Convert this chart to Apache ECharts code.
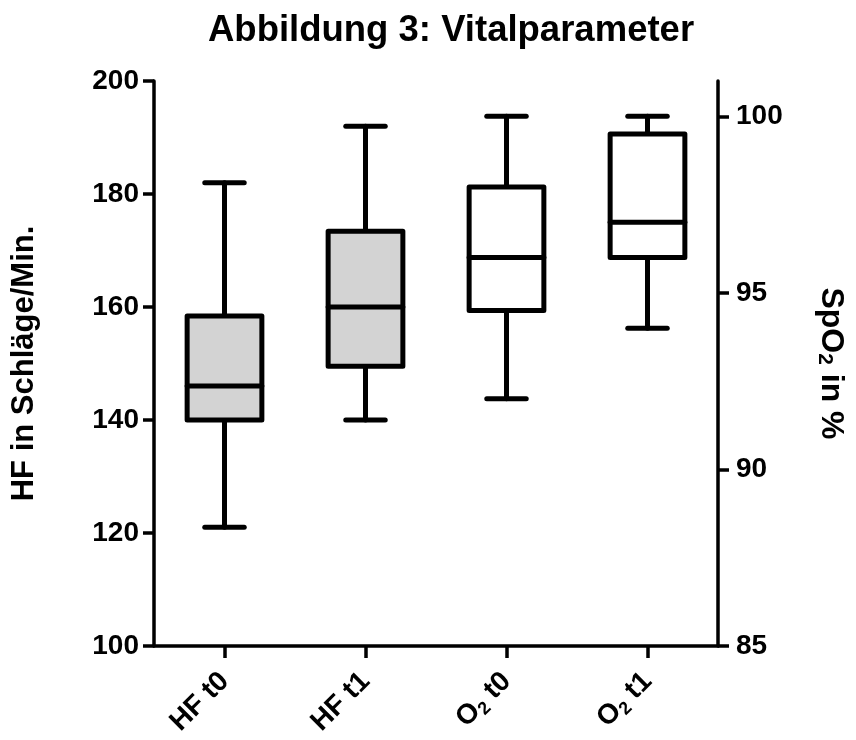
<!DOCTYPE html>
<html>
<head>
<meta charset="utf-8">
<script src="https://cdn.jsdelivr.net/npm/echarts@6/dist/echarts.min.js"></script>
<style>
html,body{margin:0;padding:0;background:#fff;}
#chart{width:856px;height:740px;}
</style>
</head>
<body>
<div id="chart"></div>
<script>
// ---- data ----
const categories = ['HF t0', 'HF t1', 'O₂ t0', 'O₂ t1'];
// [min, Q1, median, Q3, max]
const hfT0 = [121, 140, 146, 158.4, 182];
const hfT1 = [140, 149.5, 160, 173.4, 192];
const o2T0 = [92, 94.5, 96, 98, 100];
const o2T1 = [94, 96, 97, 99.5, 100];
const leftTicks = [100, 120, 140, 160, 180, 200];
const rightTicks = [85, 90, 95, 100];

const FONT = '"Liberation Sans", Arial, sans-serif';
const LW = 5;

function renderBox(fill) {
  return function (params, api) {
    const x = api.value(0);
    const pMin = api.coord([x, api.value(1)]);
    const pQ1 = api.coord([x, api.value(2)]);
    const pMed = api.coord([x, api.value(3)]);
    const pQ3 = api.coord([x, api.value(4)]);
    const pMax = api.coord([x, api.value(5)]);
    const band = api.size([1, 0])[0];
    const cx = pMed[0];
    const hb = band * 0.265;
    const hc = band * 0.14;
    const lineStyle = { stroke: '#000', lineWidth: LW, lineCap: 'round', lineJoin: 'round' };
    return {
      type: 'group',
      children: [
        { type: 'line', shape: { x1: cx, y1: pQ3[1], x2: cx, y2: pMax[1] }, style: lineStyle },
        { type: 'line', shape: { x1: cx, y1: pQ1[1], x2: cx, y2: pMin[1] }, style: lineStyle },
        { type: 'line', shape: { x1: cx - hc, y1: pMax[1], x2: cx + hc, y2: pMax[1] }, style: lineStyle },
        { type: 'line', shape: { x1: cx - hc, y1: pMin[1], x2: cx + hc, y2: pMin[1] }, style: lineStyle },
        { type: 'rect', shape: { x: cx - hb, y: pQ3[1], width: 2 * hb, height: pQ1[1] - pQ3[1] },
          style: { fill: fill, stroke: '#000', lineWidth: LW, lineJoin: 'round' } },
        { type: 'line', shape: { x1: cx - hb, y1: pMed[1], x2: cx + hb, y2: pMed[1] }, style: lineStyle }
      ]
    };
  };
}

const subRich = {
  s: { fontFamily: FONT, fontWeight: 'bold', fontSize: 18, color: '#000', verticalAlign: 'bottom', lineHeight: 12 }
};

const chart = echarts.init(document.getElementById('chart'), null, { renderer: 'canvas' });
chart.setOption({
  backgroundColor: '#fff',
  animation: false,
  title: {
    text: 'Abbildung 3: Vitalparameter',
    left: 203,
    top: 7,
    textStyle: { fontFamily: FONT, fontWeight: 'bold', fontSize: 36.5, color: '#000' }
  },
  grid: { left: 154, right: 130, top: 81, bottom: 94, containLabel: false },
  xAxis: {
    type: 'category',
    data: categories,
    axisLine: { lineStyle: { color: '#000', width: 3.5 } },
    axisTick: { show: true, alignWithLabel: true, length: 12, lineStyle: { color: '#000', width: 3.5 } },
    axisLabel: {
      rotate: 45, margin: 31, color: '#000', fontFamily: FONT, fontWeight: 'bold', fontSize: 28,
      lineHeight: 32,
      formatter: v => v.replace('₂', '{s|2}'),
      rich: subRich
    },
    splitLine: { show: false }
  },
  yAxis: [
    {
      type: 'value', min: 100, max: 200, interval: 20, position: 'left',
      name: 'HF in Schläge/Min.', nameLocation: 'middle', nameRotate: 90, nameGap: 114,
      nameTextStyle: { fontFamily: FONT, fontWeight: 'bold', fontSize: 31, color: '#000' },
      axisLine: { show: true, lineStyle: { color: '#000', width: 3.5 } },
      axisTick: { show: true, length: 11, lineStyle: { color: '#000', width: 3.5 }, customValues: leftTicks },
      axisLabel: { margin: 15, color: '#000', fontFamily: FONT, fontWeight: 'bold', fontSize: 28, customValues: leftTicks },
      splitLine: { show: false }
    },
    {
      type: 'value', min: 85, max: 101, interval: 5, position: 'right',
      name: 'SpO{s|2} in %', nameLocation: 'middle', nameRotate: -90, nameGap: 96,
      nameTextStyle: { fontFamily: FONT, fontWeight: 'bold', fontSize: 32, color: '#000', lineHeight: 34,
        rich: { s: { fontFamily: FONT, fontWeight: 'bold', fontSize: 21, color: '#000', verticalAlign: 'bottom', lineHeight: 14 } } },
      axisLine: { show: true, lineStyle: { color: '#000', width: 3.5 } },
      axisTick: { show: true, length: 11, lineStyle: { color: '#000', width: 3.5 }, customValues: rightTicks },
      axisLabel: { margin: 18, color: '#000', fontFamily: FONT, fontWeight: 'bold', fontSize: 28, customValues: rightTicks },
      splitLine: { show: false }
    }
  ],
  series: [
    {
      type: 'custom', name: 'HF', xAxisIndex: 0, yAxisIndex: 0,
      renderItem: renderBox('#d3d3d3'),
      encode: { x: 0, y: [1, 2, 3, 4, 5] },
      data: [[0].concat(hfT0), [1].concat(hfT1)]
    },
    {
      type: 'custom', name: 'SpO2', xAxisIndex: 0, yAxisIndex: 1,
      renderItem: renderBox('#ffffff'),
      encode: { x: 0, y: [1, 2, 3, 4, 5] },
      data: [[2].concat(o2T0), [3].concat(o2T1)]
    }
  ]
});
</script>
</body>
</html>
